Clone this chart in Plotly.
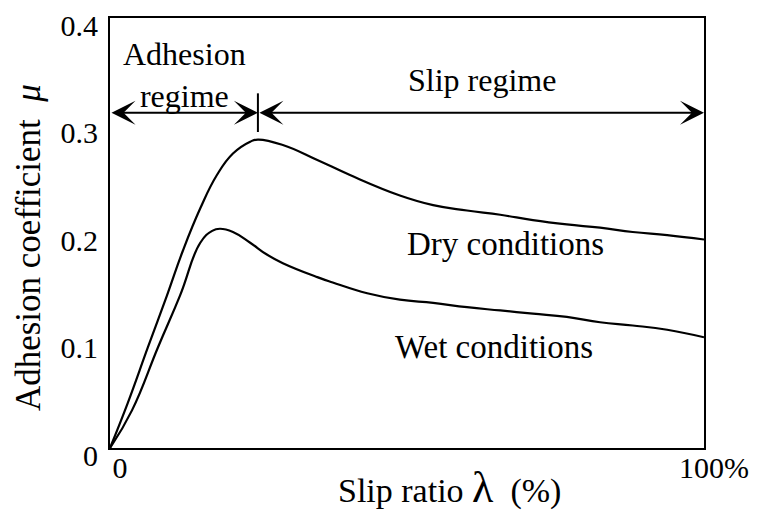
import plotly.graph_objects as go

# slip ratio (%) and adhesion coefficient
dry_x = [0, 3.0, 6.4, 9.6, 12.3, 15.2, 18.0, 20.7, 23.6, 24.9, 29.1, 34.9, 40.4, 48.8, 54.4, 60.1, 65.7, 71.2, 76.9, 82.5, 88.0, 93.8, 100]
dry_y = [0, 0.042, 0.094, 0.142, 0.184, 0.223, 0.254, 0.274, 0.285, 0.287, 0.282, 0.268, 0.254, 0.235, 0.226, 0.221, 0.217, 0.212, 0.208, 0.205, 0.201, 0.198, 0.194]

wet_x = [0, 3.7, 8.1, 11.8, 15.2, 17.2, 18.5, 20.7, 23.6, 26.4, 29.1, 34.9, 37.5, 43.3, 48.8, 54.4, 60.1, 65.7, 71.2, 76.9, 82.5, 88.0, 93.8, 100]
wet_y = [0, 0.035, 0.094, 0.142, 0.191, 0.202, 0.204, 0.201, 0.191, 0.180, 0.172, 0.159, 0.154, 0.144, 0.138, 0.135, 0.131, 0.128, 0.125, 0.122, 0.117, 0.114, 0.110, 0.103]

x_ticks = [0, 100]
x_tick_text = ['0', '100%']
y_ticks = [0, 0.1, 0.2, 0.3, 0.4]
y_tick_text = ['0', '0.1', '0.2', '0.3', '0.4']

boundary = 24.9   # adhesion / slip boundary
arrow_y = 0.312

font = 'Liberation Serif'

fig = go.Figure()
fig.add_trace(go.Scatter(x=dry_x, y=dry_y, mode='lines', name='Dry conditions',
                         line=dict(color='black', width=2.2, shape='spline', smoothing=1.3)))
fig.add_trace(go.Scatter(x=wet_x, y=wet_y, mode='lines', name='Wet conditions',
                         line=dict(color='black', width=2.2, shape='spline', smoothing=1.3)))

# regime arrows
for x0, x1 in [(0, boundary), (boundary, 100)]:
    fig.add_annotation(x=x1, y=arrow_y, ax=x0, ay=arrow_y, xref='x', yref='y', axref='x', ayref='y',
                       text='', showarrow=True, arrowhead=3, startarrowhead=3, arrowside='end+start',
                       arrowwidth=2, arrowsize=2, startarrowsize=2, arrowcolor='black')
fig.add_shape(type='line', x0=boundary, x1=boundary, y0=0.294, y1=0.330,
              line=dict(color='black', width=2))

def txt(size):
    return dict(showarrow=False, xanchor='center', yanchor='middle',
                font=dict(family=font, size=size, color='black'))

fig.add_annotation(x=12.6, y=0.347, text='Adhesion<br>regime', **txt(32))
fig.add_annotation(x=62.6, y=0.342, text='Slip regime', **txt(32))
fig.add_annotation(x=66.5, y=0.190, text='Dry conditions', **txt(33))
fig.add_annotation(x=64.6, y=0.094, text='Wet conditions', **txt(33))

# axis titles
fig.add_annotation(x=0.572, y=-0.093, xref='paper', yref='paper',
                   text='Slip ratio <span style="font-size:44px">λ</span>  (%)', **txt(34))
fig.add_annotation(x=-0.138, y=0.465, xref='paper', yref='paper', textangle=-90,
                   text='Adhesion coefficient  <i>μ</i>', **txt(35))

# the page body adds an 8px offset, so the figure is 8px smaller
fig.update_layout(
    width=751, height=505,
    margin=dict(l=102, r=55, t=10, b=65),
    plot_bgcolor='white', paper_bgcolor='white',
    showlegend=False,
    font=dict(family=font, size=30, color='black'),
)
fig.update_xaxes(range=[0, 100], tickvals=x_ticks, ticktext=x_tick_text, showgrid=False, zeroline=False,
                 showline=True, linecolor='black', linewidth=2, mirror=True, ticks='', automargin=False,
                 ticklabelshift=10, ticklabelstandoff=-8, ticklabeloverflow='allow')
fig.update_yaxes(range=[0, 0.4001], tickvals=y_ticks, ticktext=y_tick_text, showgrid=False, zeroline=False,
                 showline=True, linecolor='black', linewidth=2, mirror=True, ticks='', automargin=False,
                 ticklabelshift=7, ticklabelstandoff=4, ticklabeloverflow='allow')

fig.write_html('out.html')
